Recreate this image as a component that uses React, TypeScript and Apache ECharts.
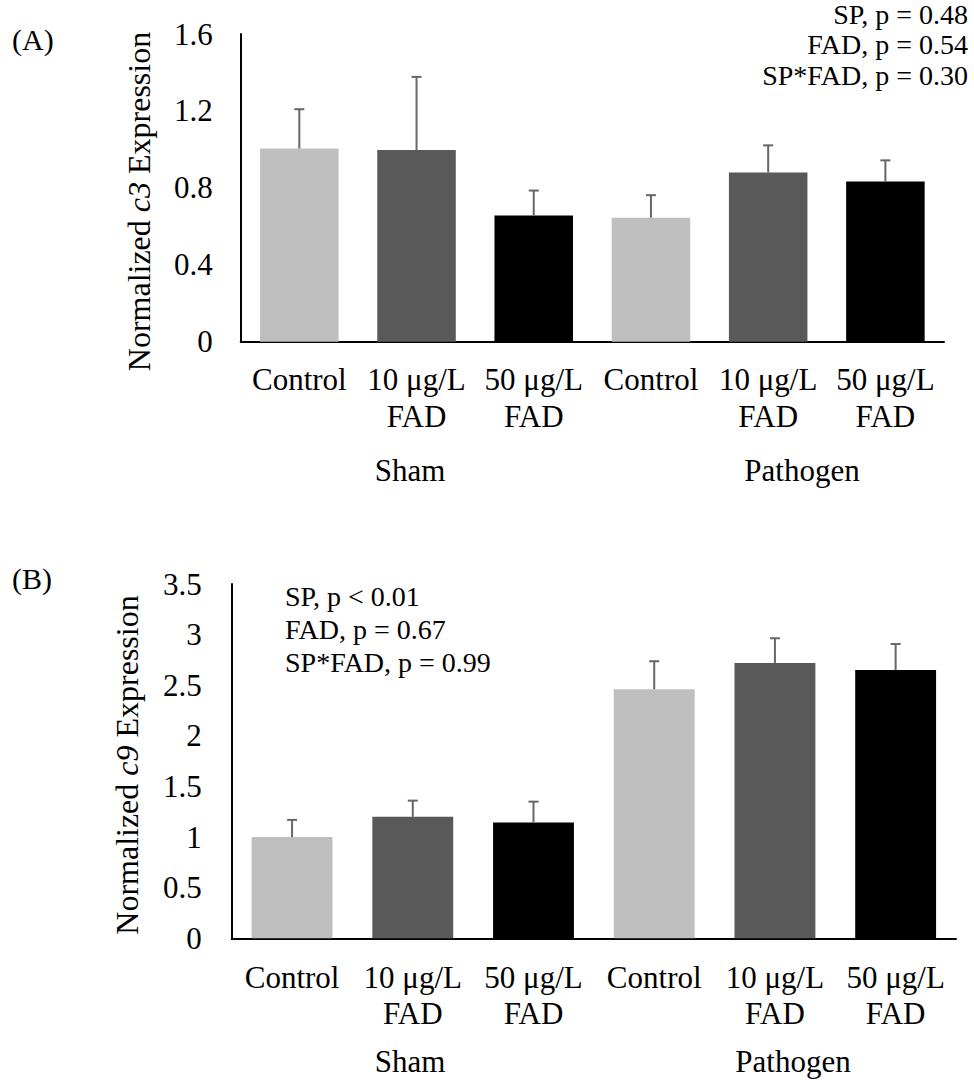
import React, { useEffect, useRef } from "react";
import * as echarts from "echarts";

const categories = ["Control", "10 μg/L\nFAD", "50 μg/L\nFAD", "Control", "10 μg/L\nFAD", "50 μg/L\nFAD"];
const barColors = ["#bfbfbf", "#595959", "#000000", "#bfbfbf", "#595959", "#000000"];
const c3Means = [1.005, 0.997, 0.656, 0.645, 0.88, 0.833];
const c3Errors = [0.204, 0.38, 0.13, 0.117, 0.141, 0.11];
const c9Means = [1.0, 1.2, 1.145, 2.46, 2.72, 2.65];
const c9Errors = [0.17, 0.16, 0.205, 0.277, 0.244, 0.257];
const c3Ticks = ["0", "0.4", "0.8", "1.2", "1.6"];
const c9Ticks = ["0", "0.5", "1", "1.5", "2", "2.5", "3", "3.5"];
const groups = ["Sham", "Pathogen"];
const statsA = ["SP, p = 0.48", "FAD, p = 0.54", "SP*FAD, p = 0.30"];
const statsB = ["SP, p < 0.01", "FAD, p = 0.67", "SP*FAD, p = 0.99"];

const FONT = "Liberation Serif";

function errRender(params: any, api: any) {
  const x = api.value(0);
  const m = api.value(1);
  const e = api.value(2);
  const b = api.coord([x, m]);
  const t = api.coord([x, m + e]);
  const st = { stroke: "#666666", lineWidth: 2 };
  return {
    type: "group",
    children: [
      { type: "line", shape: { x1: b[0], y1: b[1], x2: t[0], y2: t[1] }, style: st },
      { type: "line", shape: { x1: t[0] - 5, y1: t[1], x2: t[0] + 5, y2: t[1] }, style: st },
    ],
  };
}

export default function App() {
  const ref = useRef<HTMLDivElement>(null);
  useEffect(() => {
    if (!ref.current) return;
    const chart = echarts.init(ref.current, null, { renderer: "svg" });
    const xAxisBase = (idx: number, margin: number, lh: number) => ({
      type: "category",
      gridIndex: idx,
      data: categories,
      axisTick: { show: false },
      axisLine: { show: true, lineStyle: { color: "#000", width: 2 } },
      axisLabel: {
        interval: 0,
        hideOverlap: false,
        fontFamily: FONT,
        fontSize: 31,
        color: "#000",
        lineHeight: lh,
        margin,
      },
    });
    const yAxisBase = (idx: number, max: number, interval: number, ticks: string[], margin: number) => ({
      type: "value",
      gridIndex: idx,
      min: 0,
      max,
      interval,
      splitLine: { show: false },
      axisTick: { show: false },
      axisLine: { show: true, lineStyle: { color: "#000", width: 2 } },
      axisLabel: {
        fontFamily: FONT,
        fontSize: 31,
        color: "#000",
        margin,
        formatter: (_v: number, i: number) => ticks[i],
      },
    });
    const barData = (vals: number[]) =>
      vals.map((v, i) => ({ value: v, itemStyle: { color: barColors[i] } }));
    const errData = (m: number[], e: number[]) => m.map((v, i) => [i, v, e[i]]);
    const txt = (text: string, x: number, y: number, size: number, align: string) => ({
      type: "text",
      x,
      y,
      style: {
        text,
        fontFamily: FONT,
        fontSize: size,
        fill: "#000",
        align,
        verticalAlign: "middle",
      },
    });
    const yName = (text: string, x: number, y: number) => ({
      type: "text",
      x,
      y,
      rotation: Math.PI / 2,
      style: {
        text,
        fontFamily: FONT,
        fontSize: 32,
        fill: "#000",
        align: "center",
        verticalAlign: "middle",
        rich: { i: { fontStyle: "italic", fontFamily: FONT, fontSize: 32, fill: "#000" } },
      },
    });
    const option: any = {
      animation: false,
      textStyle: { fontFamily: FONT },
      grid: [
        { left: 240.7, top: 34, width: 703.3, height: 307.7 },
        { left: 231.7, top: 584, width: 724.3, height: 354.3 },
      ],
      xAxis: [xAxisBase(0, 19.5, 37), xAxisBase(1, 20.7, 36)],
      yAxis: [yAxisBase(0, 1.6, 0.4, c3Ticks, 28), yAxisBase(1, 3.5, 0.5, c9Ticks, 30)],
      series: [
        { type: "bar", xAxisIndex: 0, yAxisIndex: 0, data: barData(c3Means), barWidth: "67%" },
        { type: "custom", xAxisIndex: 0, yAxisIndex: 0, data: errData(c3Means, c3Errors), renderItem: errRender, encode: { x: 0, y: 1 }, z: 5 },
        { type: "bar", xAxisIndex: 1, yAxisIndex: 1, data: barData(c9Means), barWidth: "67%" },
        { type: "custom", xAxisIndex: 1, yAxisIndex: 1, data: errData(c9Means, c9Errors), renderItem: errRender, encode: { x: 0, y: 1 }, z: 5 },
      ],
      graphic: [
        txt("(A)", 12, 39, 30, "left"),
        txt("(B)", 12, 578, 30, "left"),
        yName("Normalized {i|c3} Expression", 139, 201.5),
        yName("Normalized {i|c9} Expression", 127, 765),
        txt(groups[0], 410, 470, 31, "center"),
        txt(groups[1], 802, 470, 31, "center"),
        txt(groups[0], 410, 1061, 31, "center"),
        txt(groups[1], 793, 1061, 31, "center"),
        ...statsA.map((s, i) => txt(s, 968, 14 + i * 30.5, 28, "right")),
        ...statsB.map((s, i) => txt(s, 285, 596 + i * 33, 28, "left")),
      ],
    };
    chart.setOption(option);
    return () => chart.dispose();
  }, []);
  return <div ref={ref} style={{ position: "fixed", left: 0, top: 0, width: 974, height: 1080, background: "#fff" }} />;
}
